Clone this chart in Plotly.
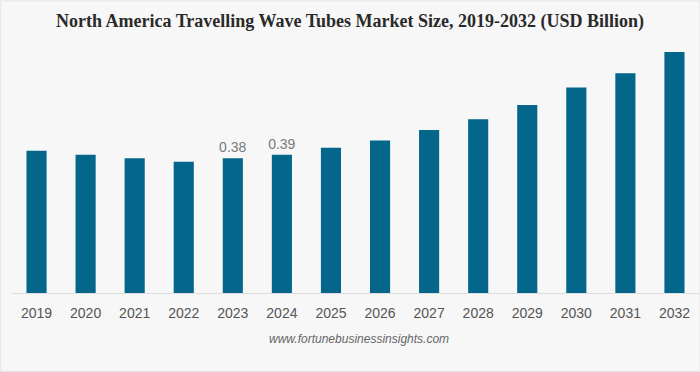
import plotly.graph_objects as go

years = ["2019", "2020", "2021", "2022", "2023", "2024", "2025",
         "2026", "2027", "2028", "2029", "2030", "2031", "2032"]
values = [0.401, 0.39, 0.38, 0.37, 0.38, 0.39, 0.41,
          0.43, 0.46, 0.49, 0.53, 0.58, 0.62, 0.68]
label_text = ["", "", "", "", "0.38", "0.39", "", "", "", "", "", "", "", ""]

title_text = "North America Travelling Wave Tubes Market Size, 2019-2032 (USD Billion)"
source_text = "www.fortunebusinessinsights.com"

fig = go.Figure()
fig.add_trace(go.Bar(
    x=years, y=values,
    marker=dict(color="#03668a", line=dict(width=0)),
    text=label_text, textposition="outside", cliponaxis=False, constraintext="none",
    textfont=dict(family="Liberation Sans, Arial", size=14, color="#7a7a7a"),
    hoverinfo="skip",
))

fig.update_layout(
    width=700, height=372,
    paper_bgcolor="#f7f7f7", plot_bgcolor="#f7f7f7",
    margin=dict(l=12, r=1, t=40, b=79),
    bargap=0.59,
    showlegend=False,
    title=dict(text="<b>" + title_text + "</b>", x=0.5, xanchor="center",
               y=0.945, yanchor="middle",
               font=dict(family="Liberation Serif, Times New Roman", size=18, color="#2a2a2a")),
    xaxis=dict(showgrid=False, showline=True, linecolor="#dddddd", linewidth=1,
               ticks="outside", ticklen=7, tickcolor="rgba(0,0,0,0)",
               tickfont=dict(family="Liberation Sans, Arial", size=14, color="#555555"),
               fixedrange=True),
    yaxis=dict(range=[0, 0.7137], visible=False, showgrid=False, zeroline=False, fixedrange=True),
    annotations=[dict(text="<i>" + source_text + "</i>", xref="paper", yref="paper",
                      x=0.505, y=-0.18, xanchor="center", yanchor="middle", showarrow=False,
                      font=dict(family="Liberation Sans, Arial", size=12, color="#666666"))],
    shapes=[dict(type="rect", xref="paper", yref="paper", x0=-0.0165, x1=1.0014,
                 y0=-0.31, y1=1.155, line=dict(color="#e6e6e6", width=1), layer="below")],
)

fig.write_html("out.html", config={"displayModeBar": False},
               post_script="document.body.style.margin='0';document.body.style.background='#f7f7f7';")
